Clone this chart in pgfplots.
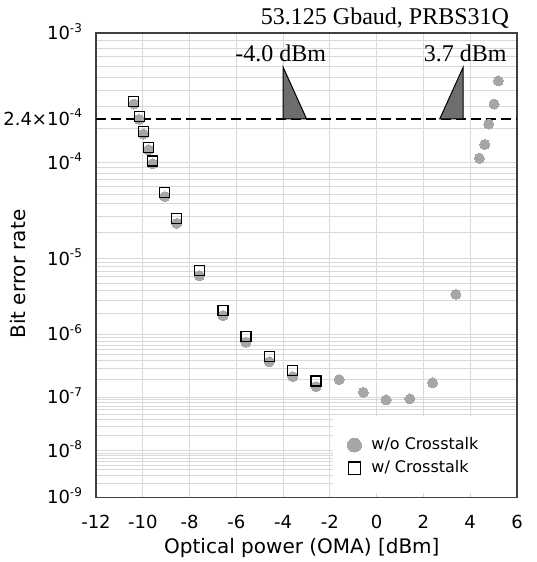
\documentclass[border=0pt]{standalone}
\usepackage{fontspec}
\setmainfont{DejaVu Sans}
\newfontfamily\serif{Liberation Serif}
\usepackage{pgfplots}
\pgfplotsset{compat=1.18}
\definecolor{gridgray}{HTML}{D9D9D9}
\definecolor{dotgray}{HTML}{A6A6A6}
\definecolor{wedge}{HTML}{6E6E6E}
\definecolor{frame}{HTML}{404040}
\pgfplotsset{markleg/.style={legend image code/.code={%
  \path[draw=none, fill=none] (-5pt,0pt) -- (5pt,0pt);
  \draw[##1, mark size=#1] plot coordinates {(0pt,0pt)};}}}

% BER axis in Q-factor scale: position = -ln Q, argument is -ln(BER)
\pgfmathdeclarefunction{qpos}{1}{%
  \begingroup
  \pgfmathsetmacro\qt{sqrt(2*#1)}%
  \pgfmathparse{-ln(\qt-(2.515517+0.802853*\qt+0.010328*\qt*\qt)/(1+1.432788*\qt+0.189269*\qt*\qt+0.001308*\qt*\qt*\qt))}%
  \pgfmathsmuggle\pgfmathresult
  \endgroup}

\begin{document}
\begin{tikzpicture}
\def\LN{2.302585}
\pgfmathsetmacro\ya{qpos(3*\LN)}
\pgfmathsetmacro\yb{qpos(4*\LN)}
\pgfmathsetmacro\yc{qpos(5*\LN)}
\pgfmathsetmacro\yd{qpos(6*\LN)}
\pgfmathsetmacro\ye{qpos(7*\LN)}
\pgfmathsetmacro\yf{qpos(8*\LN)}
\pgfmathsetmacro\yg{qpos(9*\LN)}
\pgfmathsetmacro\yr{qpos(4*\LN-ln(2.4))}
\xdef\minorlist{\ya}
\foreach \n in {4,...,9}{\foreach \k in {2,...,9}{%
  \pgfmathsetmacro\v{qpos(\n*\LN-ln(\k))}\xdef\minorlist{\minorlist,\v}}}
\begin{axis}[name=ax, scale only axis, width=210.5pt, height=232pt, clip=false,
  xmin=-12, xmax=6, ymin=\yg, ymax=\ya,
  xtick={-12,-10,...,6}, xticklabels={-12,-10,-8,-6,-4,-2,0,2,4,6},
  ytick={\ya,\yb,\yc,\yd,\ye,\yf,\yg},
  yticklabels={10\textsuperscript{-3},10\textsuperscript{-4},10\textsuperscript{-5},10\textsuperscript{-6},10\textsuperscript{-7},10\textsuperscript{-8},10\textsuperscript{-9}},
  minor ytick/.expanded={\minorlist},
  extra y ticks={\yr}, extra y tick labels={2.4×10\textsuperscript{-4}},
  extra y tick style={grid=none},
  grid=both, major grid style={draw=gridgray, line width=0.5pt},
  minor grid style={draw=gridgray, line width=0.5pt},
  major tick length=0pt, minor tick length=0pt,
  axis line style={draw=frame, line width=0.8pt},
  tick label style={font=\fontsize{9}{11}\selectfont},
  xticklabel style={anchor=center, yshift=-12.2pt},
  yticklabel style={anchor=base east, xshift=-3pt, yshift=-3.2pt},
  xlabel={Optical power (OMA) [dBm]}, ylabel={Bit error rate},
  label style={font=\fontsize{9.3}{11}\selectfont},
  every axis x label/.style={at={(rel axis cs:0.489,0)}, yshift=-25.4pt, anchor=center},
  every axis y label/.style={at={(rel axis cs:0,0.481)}, xshift=-39pt, rotate=90, anchor=center},
  legend style={at={(rel axis cs:0.563,0.175)}, anchor=north west, fill=none, draw=none,
    font=\fontsize{8}{10}\selectfont, inner xsep=5.5pt, inner ysep=8.5pt, row sep=0pt,
    column sep=1.5pt},
  legend cell align=left,
]
\fill[white] (rel axis cs:0.563,0.009) rectangle (rel axis cs:0.998,0.175);
\addplot[only marks, mark=*, mark size=2.5pt, color=dotgray, mark options={fill=dotgray, draw=dotgray, line width=0pt}, markleg=3.5pt]
  table[y expr={qpos(-ln(\thisrow{ber}))}] {
x ber
-10.38 3.14e-4
-10.15 2.37e-4
-9.98 1.79e-4
-9.75 1.31e-4
-9.58 9.8e-5
-9.06 4.75e-5
-8.55 2.51e-5
-7.58 6.2e-6
-6.57 1.86e-6
-5.59 7.7e-7
-4.59 3.88e-7
-3.59 2.23e-7
-2.59 1.52e-7
-1.60 2.0e-7
-0.57 1.22e-7
0.40 9.0e-8
1.42 9.4e-8
2.39 1.77e-7
3.39 3.6e-6
4.39 1.10e-4
4.62 1.46e-4
4.79 2.17e-4
5.02 3.14e-4
5.20 4.7e-4
};
\addplot[only marks, mark=square, mark size=2.5pt, color=black, mark options={draw=black, line width=0.6pt, fill=none}, markleg=3.1pt]
  table[y expr={qpos(-ln(\thisrow{ber}))}] {
x ber
-10.38 3.3e-4
-10.15 2.49e-4
-9.98 1.87e-4
-9.75 1.38e-4
-9.58 1.04e-4
-9.06 5.2e-5
-8.55 2.84e-5
-7.58 7.13e-6
-6.57 2.18e-6
-5.59 9.3e-7
-4.59 4.65e-7
-3.59 2.79e-7
-2.59 1.89e-7
};
\legend{w/o Crosstalk, w/ Crosstalk}
\addplot[forget plot, black, line width=1pt, dash pattern=on 5pt off 2.5pt]
  table[y expr={qpos(-ln(\thisrow{ber}))}] {
x ber
-12 2.4e-4
6 2.4e-4
};
\addplot[forget plot, fill=wedge, draw=black, line width=0.5pt]
  table[y expr={qpos(-ln(\thisrow{ber}))}] {
x ber
-4 5.9e-4
-4 2.4e-4
-3 2.4e-4
-4 5.9e-4
} -- cycle;
\addplot[forget plot, fill=wedge, draw=black, line width=0.5pt]
  table[y expr={qpos(-ln(\thisrow{ber}))}] {
x ber
3.7 5.9e-4
3.7 2.4e-4
2.7 2.4e-4
3.7 5.9e-4
} -- cycle;
\node[font=\serif\fontsize{12}{14}\selectfont] at (rel axis cs:0.439,0.957) {-4.0 dBm};
\node[font=\serif\fontsize{12}{14}\selectfont] at (rel axis cs:0.877,0.957) {3.7 dBm};
\node[font=\serif\fontsize{12}{14}\selectfont, anchor=base east, xshift=-3.8pt, yshift=4.2pt, inner sep=0pt]
  at (rel axis cs:1,1) {53.125 Gbaud, PRBS31Q};
\end{axis}
\pgfresetboundingbox
\path[use as bounding box] ([xshift=-48pt,yshift=-32.35pt]ax.south west) rectangle ([xshift=9.5pt,yshift=16.65pt]ax.north east);
\end{tikzpicture}
\end{document}
